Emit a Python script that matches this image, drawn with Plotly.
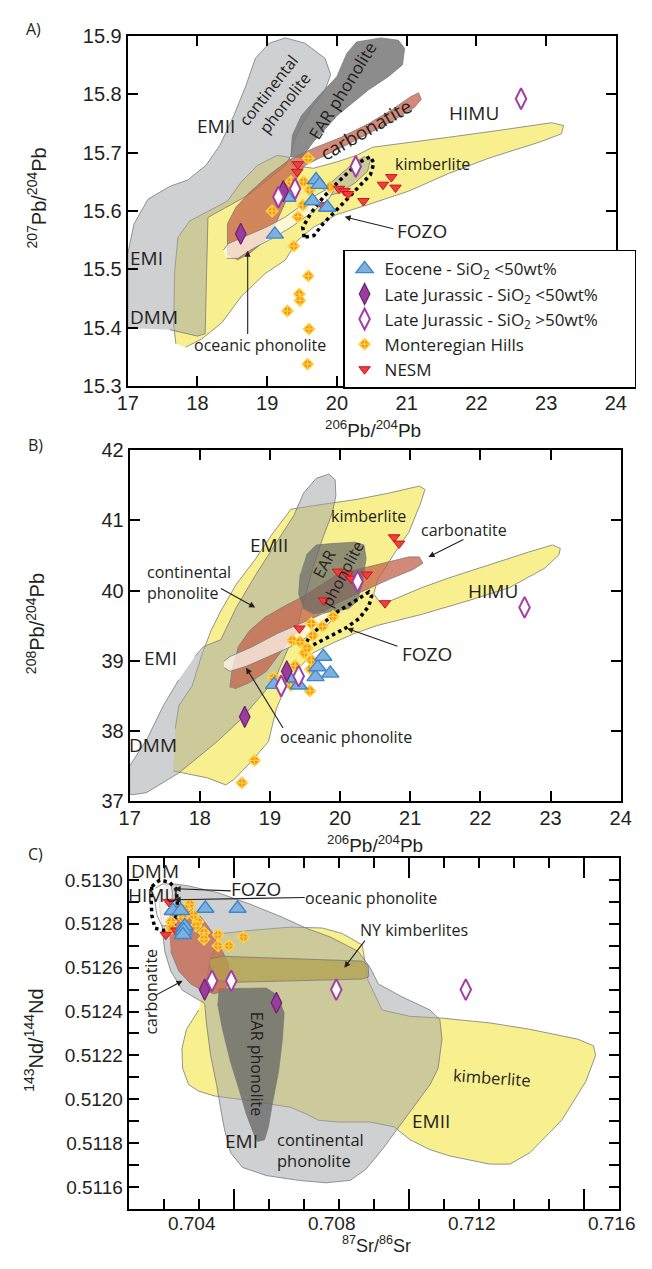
import plotly.graph_objects as go

W, H = 652, 1269

# ======================= PANEL A : 206Pb/204Pb vs 207Pb/204Pb =======================
A_eocene_x = [19.11, 19.70, 19.75, 19.65, 19.86, 19.29]
A_eocene_y = [15.560, 15.653, 15.645, 15.617, 15.606, 15.623]
A_ljlow_x = [18.62, 19.23]
A_ljlow_y = [15.561, 15.634]
A_ljhigh_x = [19.16, 19.40, 20.27, 22.64]
A_ljhigh_y = [15.624, 15.638, 15.676, 15.792]
A_mh_x = [19.59, 19.34, 19.52, 19.07, 19.44, 19.51, 19.61, 19.90, 19.38, 19.59, 19.46, 19.47, 19.29, 19.60, 19.58]
A_mh_y = [15.690, 15.650, 15.650, 15.600, 15.590, 15.610, 15.636, 15.641, 15.540, 15.489, 15.458, 15.447, 15.429, 15.398, 15.338]
A_nesm_x = [19.44, 19.43, 20.03, 20.11, 20.16, 20.38, 20.66, 20.78, 20.84, 19.79]
A_nesm_y = [15.680, 15.667, 15.638, 15.634, 15.629, 15.617, 15.645, 15.658, 15.640, 15.610]

A_kimberlite = [(17.69, 15.373), (17.66, 15.404), (17.67, 15.493), (17.72, 15.555), (17.89, 15.583), (18.17, 15.600),
                (18.43, 15.617), (18.63, 15.650), (18.86, 15.678), (19.14, 15.695), (19.31, 15.692), (19.37, 15.678),
                (19.66, 15.673), (20.00, 15.684), (20.28, 15.695), (20.51, 15.709), (20.91, 15.715), (21.60, 15.726),
                (22.45, 15.740), (23.08, 15.751), (23.25, 15.746), (23.22, 15.732), (22.91, 15.718), (22.17, 15.690),
                (21.60, 15.664), (21.03, 15.634), (20.45, 15.611), (20.00, 15.594), (19.66, 15.572), (19.43, 15.549),
                (19.26, 15.516), (18.97, 15.493), (18.63, 15.454), (18.35, 15.409), (18.06, 15.381), (17.83, 15.367)]
A_gray = [(17.00, 15.400), (17.00, 15.527), (17.09, 15.578), (17.29, 15.620), (17.60, 15.642), (17.86, 15.653),
          (18.12, 15.678), (18.32, 15.712), (18.52, 15.763), (18.69, 15.813), (18.83, 15.861), (19.03, 15.887),
          (19.26, 15.896), (19.54, 15.887), (19.83, 15.861), (19.91, 15.833), (19.83, 15.807), (19.66, 15.779),
          (19.49, 15.746), (19.38, 15.718), (19.34, 15.695), (19.26, 15.678), (18.74, 15.628), (18.40, 15.606),
          (18.15, 15.589), (18.13, 15.493), (18.11, 15.390), (18.00, 15.386), (17.60, 15.397)]
A_grayblob = [(19.80, 15.637), (19.98, 15.656), (20.21, 15.679), (20.39, 15.693), (20.48, 15.687), (20.44, 15.668),
              (20.26, 15.648), (20.03, 15.631), (19.87, 15.626)]
A_ear = [(19.34, 15.692), (19.36, 15.729), (19.49, 15.763), (19.71, 15.793), (20.00, 15.830), (20.14, 15.869),
         (20.28, 15.889), (20.63, 15.896), (20.88, 15.892), (20.97, 15.878), (20.94, 15.850), (20.74, 15.830),
         (20.45, 15.807), (20.23, 15.785), (20.00, 15.763), (19.83, 15.740), (19.66, 15.718), (19.49, 15.690)]
A_carb = [(18.43, 15.524), (18.43, 15.578), (18.55, 15.606), (18.74, 15.631), (19.03, 15.662), (19.31, 15.687),
          (19.66, 15.707), (20.06, 15.726), (20.45, 15.749), (20.80, 15.774), (21.05, 15.795), (21.17, 15.802),
          (21.21, 15.791), (21.11, 15.777), (20.80, 15.754), (20.45, 15.732), (20.17, 15.715), (19.83, 15.695),
          (19.54, 15.678), (19.43, 15.656), (19.31, 15.628), (19.14, 15.583), (18.97, 15.549), (18.74, 15.527),
          (18.57, 15.516)]
A_ocean = [(18.37, 15.533), (18.44, 15.544), (18.71, 15.558), (18.98, 15.572), (19.25, 15.589), (19.52, 15.611),
           (19.70, 15.627), (19.88, 15.639), (19.95, 15.634), (19.88, 15.620), (19.61, 15.595), (19.34, 15.572),
           (19.07, 15.553), (18.80, 15.536), (18.58, 15.519), (18.42, 15.519)]
A_fozo = [(19.53, 15.555), (19.51, 15.572), (19.62, 15.595), (19.80, 15.623), (20.03, 15.651), (20.30, 15.682),
          (20.48, 15.693), (20.53, 15.682), (20.48, 15.662), (20.26, 15.634), (20.03, 15.606), (19.80, 15.578),
          (19.67, 15.558), (19.53, 15.555)]

# ======================= PANEL B : 206Pb/204Pb vs 208Pb/204Pb =======================
B_eocene_x = [19.06, 19.41, 19.28, 19.65, 19.68, 19.76, 19.86]
B_eocene_y = [38.66, 38.65, 38.75, 38.77, 38.91, 39.06, 38.82]
B_ljlow_x = [19.24, 18.64]
B_ljlow_y = [38.85, 38.20]
B_ljhigh_x = [19.16, 19.41, 20.25, 22.63]
B_ljhigh_y = [38.64, 38.78, 40.13, 39.76]
B_mh_x = [19.05, 19.30, 19.57, 19.36, 19.58, 19.59, 19.49, 19.53, 19.32, 19.43, 19.61, 19.59, 19.75, 19.90, 18.78, 18.60]
B_mh_y = [38.76, 38.65, 38.57, 38.93, 38.88, 39.01, 39.11, 39.18, 39.29, 39.27, 39.36, 39.53, 39.49, 39.63, 37.58, 37.26]
B_nesm_x = [19.97, 20.10, 20.16, 20.38, 19.77, 19.42, 20.64, 20.77, 20.84]
B_nesm_y = [40.27, 40.23, 40.17, 40.23, 39.86, 39.46, 39.82, 40.76, 40.67]

B_kimberlite = [(17.62, 37.43), (17.87, 37.38), (18.11, 37.33), (18.37, 37.23), (18.49, 37.31), (18.74, 37.57),
                (18.98, 37.85), (19.09, 38.31), (19.19, 38.55), (19.39, 38.87), (19.61, 39.11), (19.89, 39.25),
                (20.21, 39.39), (20.52, 39.50), (21.16, 39.66), (21.84, 39.86), (22.41, 40.04), (22.92, 40.32),
                (23.12, 40.51), (23.14, 40.60), (23.03, 40.65), (22.69, 40.55), (22.12, 40.37), (21.55, 40.18),
                (21.16, 40.04), (20.71, 39.85), (20.57, 39.83), (20.48, 39.95), (20.53, 40.14), (20.76, 40.51),
                (20.98, 40.83), (21.15, 41.25), (21.21, 41.44), (21.13, 41.49), (20.70, 41.39), (20.24, 41.30),
                (19.62, 41.21), (19.30, 41.16), (19.02, 40.79), (18.80, 40.46), (18.52, 40.09), (18.30, 39.71),
                (18.16, 39.43), (18.02, 39.06), (17.89, 38.64), (17.70, 38.36), (17.65, 38.03)]
B_gray = [(17.93, 39.06), (18.05, 39.20), (18.30, 39.30), (18.40, 39.50), (18.52, 39.76), (18.80, 40.23),
          (19.07, 40.65), (19.34, 41.07), (19.48, 41.39), (19.66, 41.60), (19.84, 41.66), (19.93, 41.58),
          (19.94, 41.35), (19.89, 41.11), (19.75, 40.74), (19.61, 40.32), (19.50, 39.90), (19.39, 39.48),
          (19.21, 39.06), (19.07, 38.73), (18.83, 38.45), (18.59, 38.17), (18.25, 37.85), (17.70, 37.40),
          (17.24, 37.12), (17.04, 37.09), (17.00, 37.10), (17.00, 37.50), (17.25, 37.89), (17.48, 38.36),
          (17.70, 38.73)]
B_ear = [(19.52, 40.51), (19.66, 40.65), (19.89, 40.67), (20.21, 40.69), (20.34, 40.65), (20.37, 40.46),
         (20.32, 40.13), (20.25, 39.85), (20.12, 39.74), (19.89, 39.70), (19.61, 39.67), (19.48, 39.74),
         (19.41, 39.95), (19.43, 40.23)]
B_carb = [(18.43, 38.62), (18.46, 38.87), (18.55, 39.20), (18.71, 39.43), (18.93, 39.62), (19.21, 39.78),
          (19.48, 39.92), (19.96, 40.23), (20.41, 40.34), (20.98, 40.48), (21.13, 40.48), (21.18, 40.39),
          (21.04, 40.30), (20.70, 40.16), (20.30, 39.98), (19.96, 39.82), (19.60, 39.60), (19.30, 39.32),
          (19.10, 39.05), (18.95, 38.85), (18.71, 38.69), (18.50, 38.60)]
B_ocean = [(18.34, 38.99), (18.43, 39.06), (18.75, 39.20), (19.11, 39.39), (19.48, 39.55), (19.75, 39.67),
           (19.89, 39.71), (19.93, 39.64), (19.84, 39.53), (19.57, 39.36), (19.30, 39.20), (18.98, 39.06),
           (18.66, 38.92), (18.43, 38.85), (18.35, 38.90)]
B_fozo = [(19.48, 39.18), (19.55, 39.32), (19.75, 39.53), (19.98, 39.71), (20.21, 39.85), (20.41, 39.98),
          (20.45, 39.92), (20.41, 39.78), (20.27, 39.60), (20.07, 39.46), (19.80, 39.32), (19.57, 39.20),
          (19.48, 39.18)]

# ======================= PANEL C : 87Sr/86Sr vs 143Nd/144Nd =======================
C_eocene_x = [0.70326, 0.70349, 0.70419, 0.70511, 0.70360, 0.70357, 0.70355]
C_eocene_y = [0.51286, 0.51286, 0.51287, 0.51287, 0.51279, 0.51277, 0.51275]
C_ljlow_x = [0.70417, 0.70622]
C_ljlow_y = [0.51250, 0.51244]
C_ljhigh_x = [0.70438, 0.70493, 0.70793, 0.71163]
C_ljhigh_y = [0.51254, 0.51254, 0.51250, 0.51250]
C_mh_x = [0.70375, 0.70385, 0.70398, 0.70321, 0.70321, 0.70355, 0.70360, 0.70415, 0.70415, 0.70455, 0.70455,
          0.70486, 0.70528, 0.70392]
C_mh_y = [0.51289, 0.51284, 0.51281, 0.51281, 0.51278, 0.51283, 0.51287, 0.51276, 0.51273, 0.51275, 0.51270,
          0.51270, 0.51274, 0.51279]
C_nesm_x = [0.70315, 0.70306, 0.70335]
C_nesm_y = [0.51290, 0.51275, 0.51277]

C_kimberlite = [(0.70422, 0.512541), (0.70434, 0.512644), (0.70467, 0.512756), (0.70548, 0.512770),
                (0.70662, 0.512785), (0.70753, 0.512781), (0.70810, 0.512756), (0.70867, 0.512704),
                (0.70884, 0.512541), (0.70924, 0.512407), (0.71004, 0.512378), (0.71095, 0.512370),
                (0.71232, 0.512348), (0.71346, 0.512319), (0.71483, 0.512274), (0.71528, 0.512244),
                (0.71534, 0.512200), (0.71506, 0.512081), (0.71437, 0.511904), (0.71346, 0.511756),
                (0.71289, 0.511704), (0.71232, 0.511704), (0.71118, 0.511741), (0.71061, 0.511770),
                (0.71004, 0.511815), (0.70958, 0.511874), (0.70890, 0.511896), (0.70799, 0.511896),
                (0.70742, 0.511904), (0.70707, 0.511933), (0.70662, 0.511963), (0.70548, 0.511993),
                (0.70445, 0.512015), (0.70400, 0.512037), (0.70371, 0.512067), (0.70354, 0.512141),
                (0.70352, 0.512230), (0.70365, 0.512319), (0.70400, 0.512407)]
C_gray = [(0.70303, 0.512973), (0.70331, 0.512982), (0.70371, 0.512973), (0.70457, 0.512941), (0.70548, 0.512889),
          (0.70639, 0.512830), (0.70707, 0.512780), (0.70776, 0.512740), (0.70856, 0.512674), (0.70890, 0.512600),
          (0.70913, 0.512526), (0.70981, 0.512467), (0.71061, 0.512407), (0.71089, 0.512363), (0.71095, 0.512274),
          (0.71084, 0.512141), (0.71061, 0.512067), (0.71027, 0.511993), (0.70992, 0.511919), (0.70958, 0.511844),
          (0.70924, 0.511770), (0.70878, 0.511681), (0.70833, 0.511630), (0.70764, 0.511619), (0.70685, 0.511630),
          (0.70593, 0.511652), (0.70525, 0.511689), (0.70491, 0.511756), (0.70474, 0.511859), (0.70462, 0.511963),
          (0.70451, 0.512067), (0.70434, 0.512200), (0.70422, 0.512348), (0.70417, 0.512437), (0.70354, 0.512496),
          (0.70320, 0.512585), (0.70303, 0.512674), (0.70295, 0.512793), (0.70286, 0.512911), (0.70288, 0.512956)]
C_ear = [(0.70457, 0.512504), (0.70593, 0.512507), (0.70625, 0.512474), (0.70644, 0.512393), (0.70639, 0.512274),
         (0.70628, 0.512126), (0.70610, 0.511978), (0.70599, 0.511874), (0.70588, 0.511815), (0.70568, 0.511807),
         (0.70557, 0.511844), (0.70536, 0.511933), (0.70514, 0.512052), (0.70491, 0.512170), (0.70468, 0.512319),
         (0.70454, 0.512437)]
C_carb = [(0.70314, 0.512793), (0.70320, 0.512867), (0.70343, 0.512889), (0.70377, 0.512881), (0.70411, 0.512822),
          (0.70445, 0.512748), (0.70468, 0.512674), (0.70485, 0.512615), (0.70488, 0.512541), (0.70474, 0.512496),
          (0.70445, 0.512481), (0.70411, 0.512496), (0.70377, 0.512526), (0.70343, 0.512585), (0.70320, 0.512674)]
C_ocean = [(0.70276, 0.512963), (0.70297, 0.512982), (0.70320, 0.512982), (0.70325, 0.512941), (0.70320, 0.512852),
           (0.70314, 0.512793), (0.70295, 0.512790), (0.70281, 0.512837), (0.70274, 0.512908)]
C_nyk = [(0.70434, 0.512641), (0.70468, 0.512652), (0.70867, 0.512630), (0.70884, 0.512612), (0.70886, 0.512559),
         (0.70867, 0.512548), (0.70491, 0.512533), (0.70457, 0.512541), (0.70439, 0.512570), (0.70431, 0.512615)]
C_fozo = [(0.70266, 0.51297), (0.70289, 0.51300), (0.70316, 0.51299), (0.70335, 0.51296), (0.70339, 0.51290),
          (0.70335, 0.51283), (0.70325, 0.51278), (0.70298, 0.51277), (0.70275, 0.51278), (0.70266, 0.51284),
          (0.70264, 0.51291), (0.70266, 0.51297)]

C_xlabelvals = [0.704, 0.708, 0.712, 0.716]
C_xlabeltext = ["0.704", "0.708", "0.712", "0.716"]
C_xmajorticks = [0.705, 0.710, 0.715]
C_ytickvals = [0.5116, 0.5117, 0.5118, 0.5119, 0.5120, 0.5121, 0.5122, 0.5123, 0.5124, 0.5125, 0.5126, 0.5127,
               0.5128, 0.5129, 0.5130]
C_yticktext = ["0.5116", "", "0.5118", "", "0.5120", "", "0.5122", "", "0.5124", "", "0.5126", "", "0.5128", "",
               "0.5130"]

# ======================= styles =======================
TXT = '#231f20'
LBL_FONT = 'Open Sans, Lato, sans-serif'
TICK_FONT = 'Liberation Sans, Arial, sans-serif'
YELLOW = '#f8f08e'
GRAY = 'rgba(160,162,166,0.5)'
EAR = 'rgba(105,105,105,0.72)'
CARB = 'rgba(196,100,76,0.76)'
OCEAN = 'rgba(255,250,242,0.72)'
NYK = 'rgba(178,160,78,0.75)'
EDGE = dict(color='#7a7a7a', width=0.8)
PAD = '&nbsp;' * 7

fig = go.Figure()


def field(poly, color, xa, ya, edge=EDGE):
    fig.add_trace(go.Scatter(x=[p[0] for p in poly], y=[p[1] for p in poly], mode='lines', fill='toself',
                             fillcolor=color, line=edge, hoverinfo='skip', showlegend=False,
                             xaxis=xa, yaxis=ya))


def dotted(poly, xa, ya):
    fig.add_trace(go.Scatter(x=[p[0] for p in poly], y=[p[1] for p in poly], mode='lines',
                             line=dict(color='black', width=3.5, dash='dot'), hoverinfo='skip',
                             showlegend=False, xaxis=xa, yaxis=ya))


SER = {
    'eocene': dict(name='Eocene - SiO<sub>2</sub> &lt;50wt%', rank=1,
                   marker=dict(symbol='triangle-up', size=15, color='#7eb0de',
                               line=dict(color='#3f87cc', width=1.4))),
    'ljlow': dict(name='Late Jurassic - SiO<sub>2</sub> &lt;50wt%' + PAD, rank=2,
                  marker=dict(symbol='diamond-tall', size=15, color='#9b3d9d',
                              line=dict(color='#6e2473', width=1.3))),
    'ljhigh': dict(name='Late Jurassic - SiO<sub>2</sub> &gt;50wt%', rank=3,
                   marker=dict(symbol='diamond-tall', size=15, color='white',
                               line=dict(color='#a23ea4', width=2))),
    'mh': dict(name='Monteregian Hills', rank=4,
               marker=dict(symbol='diamond-cross', size=9, color='#f7921e',
                           line=dict(color='#ffd640', width=1.2))),
    'nesm': dict(name='NESM', rank=5,
                 marker=dict(symbol='triangle-down', size=10, color='#ef3e3e',
                             line=dict(color='#c8161d', width=1))),
}


def points(key, xs, ys, xa, ya, legend):
    s = SER[key]
    fig.add_trace(go.Scatter(x=xs, y=ys, mode='markers', name=s['name'], marker=s['marker'],
                             legendrank=s['rank'], showlegend=legend, legendgroup=key,
                             xaxis=xa, yaxis=ya))


# ----- Panel A -----
field(A_kimberlite, YELLOW, 'x', 'y')
field(A_gray, GRAY, 'x', 'y')
field(A_grayblob, GRAY, 'x', 'y')
field(A_ear, 'rgba(120,120,120,0.85)', 'x', 'y')
field(A_carb, CARB, 'x', 'y')
field(A_ocean, OCEAN, 'x', 'y')
dotted(A_fozo, 'x', 'y')
points('mh', A_mh_x, A_mh_y, 'x', 'y', True)
points('nesm', A_nesm_x, A_nesm_y, 'x', 'y', True)
points('eocene', A_eocene_x, A_eocene_y, 'x', 'y', True)
points('ljlow', A_ljlow_x, A_ljlow_y, 'x', 'y', True)
points('ljhigh', A_ljhigh_x, A_ljhigh_y, 'x', 'y', True)

# ----- Panel B -----
field(B_kimberlite, YELLOW, 'x2', 'y2')
field(B_gray, GRAY, 'x2', 'y2')
field(B_carb, CARB, 'x2', 'y2')
field(B_ear, EAR, 'x2', 'y2')
field(B_ocean, OCEAN, 'x2', 'y2')
dotted(B_fozo, 'x2', 'y2')
points('mh', B_mh_x, B_mh_y, 'x2', 'y2', False)
points('nesm', B_nesm_x, B_nesm_y, 'x2', 'y2', False)
points('eocene', B_eocene_x, B_eocene_y, 'x2', 'y2', False)
points('ljlow', B_ljlow_x, B_ljlow_y, 'x2', 'y2', False)
points('ljhigh', B_ljhigh_x, B_ljhigh_y, 'x2', 'y2', False)

# ----- Panel C -----
field(C_kimberlite, YELLOW, 'x3', 'y3')
field(C_gray, GRAY, 'x3', 'y3')
field(C_ear, 'rgba(100,100,100,0.75)', 'x3', 'y3')
field(C_carb, CARB, 'x3', 'y3')
field(C_ocean, OCEAN, 'x3', 'y3')
field(C_nyk, NYK, 'x3', 'y3')
dotted(C_fozo, 'x3', 'y3')
points('mh', C_mh_x, C_mh_y, 'x3', 'y3', False)
points('nesm', C_nesm_x, C_nesm_y, 'x3', 'y3', False)
points('eocene', C_eocene_x, C_eocene_y, 'x3', 'y3', False)
points('ljlow', C_ljlow_x, C_ljlow_y, 'x3', 'y3', False)
points('ljhigh', C_ljhigh_x, C_ljhigh_y, 'x4', 'y3', False)   # overlay x-axis carries the long ticks

# ======================= layout =======================
def xdom(l, r):
    return [l / W, r / W]


def ydom(t, b):
    return [1 - b / H, 1 - t / H]


axis_common = dict(showline=True, linecolor='black', linewidth=2, mirror='ticks', ticks='inside',
                   ticklen=10, tickwidth=2, tickcolor='black', showgrid=False, zeroline=False,
                   tickfont=dict(family=TICK_FONT, size=20, color=TXT))
axis_c = dict(axis_common)
axis_c['tickfont'] = dict(family=TICK_FONT, size=19, color=TXT)

fig.update_layout(
    width=W, height=H, margin=dict(l=0, r=0, t=0, b=0),
    paper_bgcolor='white', plot_bgcolor='white',
    xaxis=dict(domain=xdom(122, 632), range=[17, 24], dtick=1, anchor='y', ticklabelstandoff=-2, **axis_common),
    yaxis=dict(domain=ydom(25, 382), range=[15.3, 15.9], dtick=0.1, tickformat='.1f', anchor='x', **axis_common),
    xaxis2=dict(domain=xdom(124, 637), range=[17, 24], dtick=1, anchor='y2', ticklabelstandoff=-2, **axis_common),
    yaxis2=dict(domain=ydom(447, 804), range=[37, 42], dtick=1, anchor='x2', **axis_common),
    xaxis3=dict(domain=xdom(123, 635), range=[0.702, 0.716], tickvals=C_xlabelvals, ticktext=C_xlabeltext,
                ticklabelshift=-7, ticklabelstandoff=-4, anchor='y3',
                minor=dict(ticks='inside', dtick=0.001, tick0=0.702, ticklen=10, tickwidth=2, tickcolor='black'),
                **axis_c),
    xaxis4=dict(overlaying='x3', anchor='y3', range=[0.702, 0.716], tickvals=C_xmajorticks, ticks='inside',
                ticklen=20, tickwidth=2, tickcolor='black', showticklabels=False, showline=False,
                mirror='ticks', showgrid=False, zeroline=False),
    yaxis3=dict(domain=ydom(862, 1219), range=[0.5115, 0.5131], tickvals=C_ytickvals, ticktext=C_yticktext,
                anchor='x3', **axis_c),
    legend=dict(x=347 / W, y=1 - 243 / H, xanchor='left', yanchor='top', bgcolor='white',
                bordercolor='black', borderwidth=1.5, font=dict(family=LBL_FONT, size=17, color=TXT),
                tracegroupgap=0, itemsizing='trace'),
    showlegend=True,
)

ann = []


def label(text, x, y, xr, yr, size=16, angle=0, align='center'):
    ann.append(dict(text=text, x=x, y=y, xref=xr, yref=yr, showarrow=False, textangle=angle, align=align,
                    xanchor='center', yanchor='middle',
                    font=dict(family=LBL_FONT, size=size, color=TXT)))


def arrow(tx, ty, hx, hy, xr, yr, head=2):
    ann.append(dict(text='', x=hx, y=hy, ax=tx, ay=ty, xref=xr, yref=yr, axref=xr, ayref=yr,
                    showarrow=True, arrowhead=head, arrowsize=1.1, arrowwidth=1.1, arrowcolor=TXT))


def paper(text, px, py, size=18, angle=0, family=TICK_FONT, yanchor='middle'):
    ann.append(dict(text=text, x=px / W, y=1 - py / H, xref='paper', yref='paper', showarrow=False,
                    xanchor='center', yanchor=yanchor,
                    textangle=angle, font=dict(family=family, size=size, color=TXT)))


M = 19  # mantle end-member label size

# Panel A labels
label('EMII', 18.26, 15.746, 'x', 'y', M)
label('continental<br>phonolite', 19.14, 15.795, 'x', 'y', 16, -52)
label('EAR phonolite', 20.08, 15.806, 'x', 'y', 17, -58)
label('carbonatite', 20.41, 15.739, 'x', 'y', 19, -30)
label('HIMU', 21.97, 15.768, 'x', 'y', M)
label('kimberlite', 21.37, 15.681, 'x', 'y', 16)
label('FOZO', 21.22, 15.565, 'x', 'y', M)
label('EMI', 17.27, 15.520, 'x', 'y', M)
label('DMM', 17.38, 15.419, 'x', 'y', M)
label('oceanic phonolite', 18.90, 15.371, 'x', 'y', 16)
arrow(20.83, 15.569, 20.11, 15.590, 'x', 'y')
arrow(18.72, 15.387, 18.72, 15.532, 'x', 'y')

# Panel B labels
label('kimberlite', 20.41, 41.07, 'x2', 'y2', 16)
label('EMII', 18.98, 40.65, 'x2', 'y2', M)
label('carbonatite', 21.76, 40.86, 'x2', 'y2', 16)
arrow(21.78, 40.74, 21.26, 40.48, 'x2', 'y2')
label('continental<br>phonolite', 17.85, 40.11, 'x2', 'y2', 16, 0, 'left')
arrow(18.28, 40.04, 18.79, 39.76, 'x2', 'y2')
label('EAR<br>phonolite', 19.90, 40.30, 'x2', 'y2', 16, -62)
label('HIMU', 22.18, 39.99, 'x2', 'y2', M)
label('FOZO', 21.24, 39.10, 'x2', 'y2', M)
arrow(20.84, 39.20, 20.10, 39.46, 'x2', 'y2')
label('EMI', 17.44, 39.04, 'x2', 'y2', M)
label('DMM', 17.33, 37.80, 'x2', 'y2', M)
label('oceanic phonolite', 20.09, 37.92, 'x2', 'y2', 16)
arrow(19.20, 38.02, 18.66, 38.90, 'x2', 'y2')

# Panel C labels
label('DMM', 0.70276, 0.51304, 'x3', 'y3', M)
label('HIMU', 0.70268, 0.51293, 'x3', 'y3', M)
label('FOZO', 0.70565, 0.51296, 'x3', 'y3', M)
arrow(0.70496, 0.51295, 0.70331, 0.51296, 'x3', 'y3')
label('oceanic phonolite', 0.70893, 0.51292, 'x3', 'y3', 16)
arrow(0.70707, 0.51292, 0.70331, 0.51291, 'x3', 'y3')
label('NY kimberlites', 0.71015, 0.51277, 'x3', 'y3', 16)
arrow(0.70878, 0.51273, 0.70816, 0.51260, 'x3', 'y3')
label('carbonatite', 0.70263, 0.51249, 'x3', 'y3', 16, -90)
arrow(0.70272, 0.51247, 0.70354, 0.51254, 'x3', 'y3')
label('EAR phonolite', 0.70565, 0.51216, 'x3', 'y3', 16, 90)
label('kimberlite', 0.71238, 0.51210, 'x3', 'y3', 16.5, 4)
label('EMII', 0.71063, 0.51190, 'x3', 'y3', M)
label('EMI', 0.70523, 0.51181, 'x3', 'y3', M)
label('continental<br>phonolite', 0.70747, 0.51177, 'x3', 'y3', 16.5, 0, 'left')

# axis titles and panel letters
paper('<sup>206</sup>Pb/<sup>204</sup>Pb', 378, 425, 19)
paper('<sup>207</sup>Pb/<sup>204</sup>Pb', 27, 190, 20, -90)
paper('<sup>206</sup>Pb/<sup>204</sup>Pb', 380, 848, 19)
paper('<sup>208</sup>Pb/<sup>204</sup>Pb', 25, 623, 20, -90)
paper('<sup>87</sup>Sr/<sup>86</sup>Sr', 382, 1269, 18, 0, TICK_FONT, 'bottom')
paper('<sup>143</sup>Nd/<sup>144</sup>Nd', 24, 1047, 20, -90)
paper('A)', 24, 18, 16, 0, LBL_FONT)
paper('B)', 26, 442, 16, 0, LBL_FONT)
paper('C)', 26, 858, 16, 0, LBL_FONT)

fig.update_layout(annotations=ann)
fig.write_html('out.html')
